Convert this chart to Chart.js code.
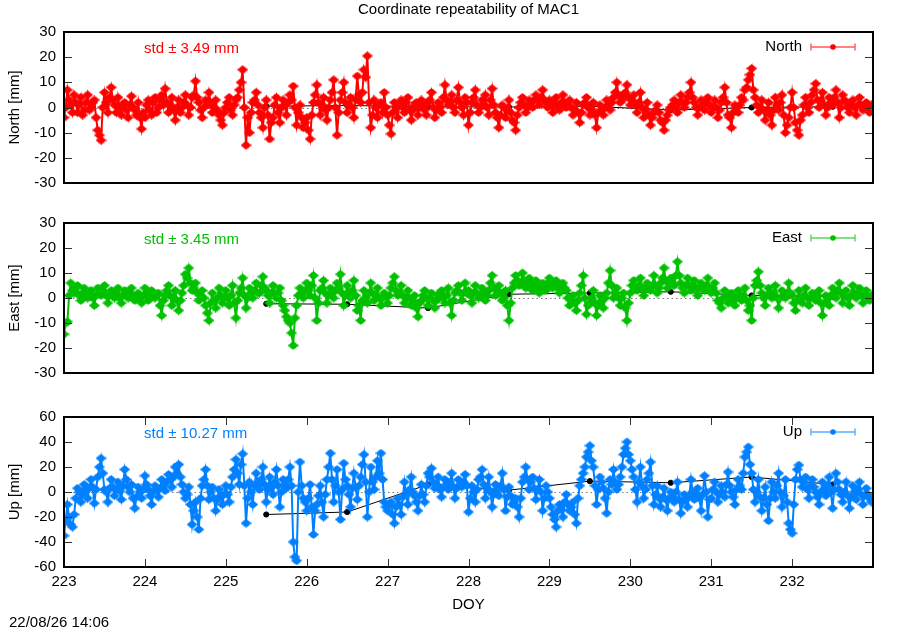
<!DOCTYPE html>
<html>
<head>
<meta charset="utf-8">
<title>Coordinate repeatability of MAC1</title>
<script src="https://cdn.jsdelivr.net/npm/chart.js@4.4.0/dist/chart.umd.min.js"></script>
<style>
html,body{margin:0;padding:0;background:#fff;}
#wrap{position:relative;width:900px;height:630px;overflow:hidden;background:#fff;}
#wrap canvas{position:absolute;left:0;}
</style>
</head>
<body>
<div id="wrap">
  <canvas id="c1" width="900" height="200" style="top:0px"></canvas>
  <canvas id="c2" width="900" height="190" style="top:200px"></canvas>
  <canvas id="c3" width="900" height="230" style="top:400px"></canvas>
</div>
<script>
// ---------------- data ----------------
const titleText = 'Coordinate repeatability of MAC1';
const stampText = '22/08/26 14:06';
const xTitle = 'DOY';

const doy = [
223.000,223.021,223.042,223.063,223.083,223.104,223.125,223.146,223.167,223.188,223.208,223.229,223.250,223.271,223.292,223.313,223.333,223.354,223.375,223.396,223.417,223.438,223.458,223.479,223.500,223.521,223.542,223.563,223.583,223.604,223.625,223.646,223.667,223.688,223.708,223.729,223.750,223.771,223.792,223.813,223.833,223.854,223.875,223.896,223.917,223.938,223.958,223.979,
224.000,224.021,224.042,224.063,224.083,224.104,224.125,224.146,224.167,224.188,224.208,224.229,224.250,224.271,224.292,224.313,224.333,224.354,224.375,224.396,224.417,224.438,224.458,224.479,224.500,224.521,224.542,224.563,224.583,224.604,224.625,224.646,224.667,224.688,224.708,224.729,224.750,224.771,224.792,224.813,224.833,224.854,224.875,224.896,224.917,224.938,224.958,224.979,
225.000,225.021,225.042,225.063,225.083,225.104,225.125,225.146,225.167,225.188,225.208,225.229,225.250,225.271,225.292,225.313,225.333,225.354,225.375,225.396,225.417,225.438,225.458,225.479,225.500,225.521,225.542,225.563,225.583,225.604,225.625,225.646,225.667,225.688,225.708,225.729,225.750,225.771,225.792,225.813,225.833,225.854,225.875,225.896,225.917,225.938,225.958,225.979,
226.000,226.021,226.042,226.063,226.083,226.104,226.125,226.146,226.167,226.188,226.208,226.229,226.250,226.271,226.292,226.313,226.333,226.354,226.375,226.396,226.417,226.438,226.458,226.479,226.500,226.521,226.542,226.563,226.583,226.604,226.625,226.646,226.667,226.688,226.708,226.729,226.750,226.771,226.792,226.813,226.833,226.854,226.875,226.896,226.917,226.938,226.958,226.979,
227.000,227.021,227.042,227.063,227.083,227.104,227.125,227.146,227.167,227.188,227.208,227.229,227.250,227.271,227.292,227.313,227.333,227.354,227.375,227.396,227.417,227.438,227.458,227.479,227.500,227.521,227.542,227.563,227.583,227.604,227.625,227.646,227.667,227.688,227.708,227.729,227.750,227.771,227.792,227.813,227.833,227.854,227.875,227.896,227.917,227.938,227.958,227.979,
228.000,228.021,228.042,228.063,228.083,228.104,228.125,228.146,228.167,228.188,228.208,228.229,228.250,228.271,228.292,228.313,228.333,228.354,228.375,228.396,228.417,228.438,228.458,228.479,228.500,228.521,228.542,228.563,228.583,228.604,228.625,228.646,228.667,228.688,228.708,228.729,228.750,228.771,228.792,228.813,228.833,228.854,228.875,228.896,228.917,228.938,228.958,228.979,
229.000,229.021,229.042,229.063,229.083,229.104,229.125,229.146,229.167,229.188,229.208,229.229,229.250,229.271,229.292,229.313,229.333,229.354,229.375,229.396,229.417,229.438,229.458,229.479,229.500,229.521,229.542,229.563,229.583,229.604,229.625,229.646,229.667,229.688,229.708,229.729,229.750,229.771,229.792,229.813,229.833,229.854,229.875,229.896,229.917,229.938,229.958,229.979,
230.000,230.021,230.042,230.063,230.083,230.104,230.125,230.146,230.167,230.188,230.208,230.229,230.250,230.271,230.292,230.313,230.333,230.354,230.375,230.396,230.417,230.438,230.458,230.479,230.500,230.521,230.542,230.563,230.583,230.604,230.625,230.646,230.667,230.688,230.708,230.729,230.750,230.771,230.792,230.813,230.833,230.854,230.875,230.896,230.917,230.938,230.958,230.979,
231.000,231.021,231.042,231.063,231.083,231.104,231.125,231.146,231.167,231.188,231.208,231.229,231.250,231.271,231.292,231.313,231.333,231.354,231.375,231.396,231.417,231.438,231.458,231.479,231.500,231.521,231.542,231.563,231.583,231.604,231.625,231.646,231.667,231.688,231.708,231.729,231.750,231.771,231.792,231.813,231.833,231.854,231.875,231.896,231.917,231.938,231.958,231.979,
232.000,232.021,232.042,232.063,232.083,232.104,232.125,232.146,232.167,232.188,232.208,232.229,232.250,232.271,232.292,232.313,232.333,232.354,232.375,232.396,232.417,232.438,232.458,232.479,232.500,232.521,232.542,232.563,232.583,232.604,232.625,232.646,232.667,232.688,232.708,232.729,232.750,232.771,232.792,232.813,232.833,232.854,232.875,232.896,232.917,232.938,232.958,232.979
];

const north = [
-4,0,7,3,1,-2,5,2,-2,1,4,-3,-1,2,5,-1,0,2,3,-4,-9,-11,-13,0,6,2,-2,4,8,3,1,-2,4,0,-3,1,2,-1,-4,1,4.5,0,-1,-3,2,-4,-8.5,-2,
-4,1,3,-1,-3,2,4,-2,0,3,5,1,7.5,2,-2,1,4,-1,-5,0,3,-2,0,2,5,1,-3,0,4,5,10.5,4,2,-1,-4,0,3,1,6,2,-2,0,3,-1,-3,-5,-7,-2,
0,2,4,-1,-3,1,3,4,7,10,15,0,-15,-4,-10,-2,2,3,6,1,-2,-4,-8,0,3,-3,-12.5,-6,-4,1,4,-2,-6,0,3,1,-3,2,5,3,8.5,0,-7,-2,1,-4,-8,-6,
-4,-9,-12.5,-3,2,5,9,2,-3,1,4,-1,-5,0,3,6,11,0,-11,-2,3,6,10,2,-2,1,4,0,-4,3,12.5,5,2,6,15,12,20.5,2,-8,-3,3,0,-4,1,2,-2,6,0,
-3,-7,-10.5,-2,2,0,-4,1,3,0,-2,2,4,-1,-5,-1,1,2,-3,0,3,1,-1,-3,2,3,6,0,-4,-1,2,0,-2,4,9,3,1,2,5,0,-2,3,8,2,0,-3,4,2,
-7,-2,2,4,7,1,-2,0,3,1,5,0,-3,3,7.5,1,-2,-4,-8,-3,1,0,-4,-1,3,-2,-5,-6,-9,-3,0,2,4,1,-2,0,3,2,0,3,5,3,1,4,7,3,2,0,
3,1,-2,2,4,0,-1,2,5,2,0,1,3,0,-3,-1,2,-2,-6,-2,1,2,4,0,-3,-1,2,-3,-8,-2,1,-1,-3,0,3,1,-1,2,4,6,10,5,2,3,5,6,9,4,
1,3,5,1,-2,2,6,0,-4,-1,2,-3,-7,-4,-2,-1,1,-2,-5,-6,-9,-5,-3,-1,0,1,3,0,-2,2,5,2,0,2,4,6,10,4,2,0,-3,0,3,1,-1,2,4,1,
-2,0,3,0,-4,-1,2,4,8,2,-3,-4,-8,-2,1,0,-2,1,4,3,7,8,11,13,15.5,7,4,1,-2,0,3,-1,-5,-1,2,-3,-7,-1,4,1,-1,2,5,-3,-10,-7,-4,0,
6,0,-6,-9,-11,-5,-3,1,4,0,-2,2,5,7,9.5,3,0,3,6,1,-3,0,4,2,1,4,7,2,-4,0,5,3,2,0,-2,1,3,0,-3,1,4,1,-1,0,2,0,-2,1
];

const east = [
-14.5,-10,-9.5,1,6,3,2,4,5,1,-1,2,4,1,0,2,3,0,-3,1,4,2,1,3,5,1,-2,1,3,1,0,2,4,0,-2,1,3,1,0,2,4,1,-1,1,2,0,-2,1,
4,1,-1,2,3,1,0,1,2,-3,-7,-1,1,3,5,1,-3,0,3,-1,-5,-1,2,5,9.5,8,12,6,3,4,6,2,-1,1,3,0,-3,-6,-9,-2,2,-1,-4,0,4,1,-2,0,
3,0,-3,1,5,-2,-8,-1,2,4,8,1,-4,0,4,2,0,3,6,2,2,5,8.5,4,3,1,-2,2,5,2,0,2,4,-1,-3,-5,-7.5,-9,-10,-14,-19,-8,-3,1,4,2,0,3,
6,3,1,5,9,0,-9,-2,3,4,7,2,-2,1,4,2,0,3,6,4,9.5,2,-3,1,5,2,0,3,7,1,-5,-3,-9,-1,3,0,-2,2,6,2,-1,1,4,0,-3,0,2,1,
-2,1,4,6,8.5,3,1,2,5,1,-2,0,3,0,-3,-1,1,-4,-7.5,-2,-1,1,3,0,-3,0,2,-1,-4,-1,1,2,3,0,-2,1,4,-2,-7,-1,2,3,5,2,-1,2,6,2,
3,1,-2,2,5,2,0,1,4,2,-1,1,3,6,9,4,1,3,5,2,-1,0,3,-3,-9,-2,4,6,9,7,5,6,10,7,4,5,8,6,3,5,7,4,2,5,6,4,3,6,
8,5,4,6,7,4,2,5,6,4,3,0,-3,-1,1,-2,-5,-1,2,5,9,0,-6.5,-3,-2,0,3,-2,-7,-3,1,-1,-4,0,2,6,11,5,0,2,4,0,-3,0,2,-4,-9,-2,
2,5,7,4,3,5,8,4,1,4,6,4,3,5,9,5,2,4,6,8,12,7,4,6,8,6,5,9,14.5,9,6,4,2,5,8,5,3,5,7,4,1,4,6,4,3,5,8,4,
2,4,6,2,-1,-2,-4,0,3,0,-2,1,2,-1,-3,0,3,1,-1,1,4,-1,-5,-3,-9,0,5,7,10.5,5,2,0,-3,1,4,2,0,2,5,0,-4,0,3,1,0,2,6,2,
1,-2,-5,-1,3,0,-2,1,4,0,-3,0,2,0,-1,1,3,-2,-7,-2,1,0,-3,1,4,2,0,3,6,2,-2,1,3,0,-3,1,5,2,0,2,4,1,-2,1,3,0,-1,1
];

const up = [
-35,-23,-10,-20,-26,-28,-18,-5,3,0,-8,-2,6,2,-5,3,10,4,-9,2,12,20,27,15,2,0,-8,3,10,4,-3,2,8,1,-6,5,18,10,4,0,6,-5,-13,-4,4,0,-5,2,
13,6,2,-3,-10,0,5,2,-4,3,10,5,1,8,14,10,4,12,20,15,22,12,6,0,-5,-2,4,-10,-26,-15,-8,-20,-30,-5,5,10,18,5,-6,0,4,-5,-15,-6,2,-3,-10,-2,
5,-2,-8,4,12,18,26,15,6,22,30.5,5,-25,-5,8,0,-10,5,15,6,2,10,20,6,-8,2,12,4,-2,8,18,5,-12,0,10,6,3,10,20,5,-40,-52,-55,0,24,5,-5,-8,
-15,-5,6,-12,-34,-15,-10,-3,5,-8,-20,-2,10,20,31,10,-8,5,18,0,-22,2,23,10,5,-2,-12,3,15,4,-6,5,12,22,30,8,-20,0,20,8,2,12,25,15,31,10,-8,-12,
-15,-10,-8,-18,-25,-12,-5,-10,-18,-4,8,-2,-10,2,12,0,-3,-8,-15,-3,6,-2,-8,5,15,12,19,8,3,6,12,2,-4,4,10,5,2,8,15,4,-5,3,10,6,4,8,14,5,
-16,-5,5,0,-8,2,10,12,18,6,-5,3,12,0,-12,-2,6,2,-3,5,15,2,-15,-4,4,-3,-10,-8,-5,-12,-20,-5,8,12,20,10,2,8,12,3,-6,2,10,0,-15,-5,5,0,
-5,-12,-18,-22,-28,-15,-10,-14,-20,-8,-2,-10,-15,-12,-8,-18,-25,-5,5,10,15,20,28,32,37,25,20,5,-10,2,12,8,3,-5,-17,0,10,6,18,8,2,6,12,20,30,35,40,30,
25,18,12,2,-8,8,20,5,-5,2,10,15,24,5,-10,-2,5,-5,-12,-4,3,-6,-15,-5,0,-4,-8,0,8,-6,-17,-8,-2,-6,-12,-3,10,0,-6,-2,3,-5,-15,-2,13,0,-20,-6,
-5,2,8,0,-8,-2,5,0,-4,6,16,5,0,-4,-10,2,10,5,2,15,28,32,36,22,15,2,-8,0,10,-4,-15,-5,4,-10,-23,-5,8,0,-5,5,15,0,-12,-3,10,-8,-25,-30,
-33,-10,10,18,21.5,10,4,8,12,2,-5,5,10,4,0,-4,-10,0,8,2,-3,5,12,0,-13,2,15,8,2,-2,-8,0,8,-3,-13,-4,5,0,-6,2,8,-2,-10,-3,3,-2,-5,-8
];

// daily mean solutions (black)
const dailyDoy   = [225.5, 226.5, 227.5, 228.5, 229.5, 230.5, 231.5, 232.5];
const dailyNorth = [0.5, 0.8, 0.3, 0.2, 0.5, -1, 0, 0.3];
const dailyEast  = [-2.3, -2.5, -4, 1.5, 2, 2.5, 1, 0.5];
const dailyUp    = [-18, -16, 6, 1.5, 8.7, 7.4, 12, 6];

const xTicks   = [223, 224, 225, 226, 227, 228, 229, 230, 231, 232];
const yTicksNE = [-30, -20, -10, 0, 10, 20, 30];
const yTicksUp = [-60, -40, -20, 0, 20, 40, 60];

const seriesNames = ['North', 'East', 'Up'];
const yLabels = ['North [mm]', 'East [mm]', 'Up [mm]'];
const stdLabels = ['std \u00b1 3.49 mm', 'std \u00b1 3.45 mm', 'std \u00b1 10.27 mm'];
const colors = ['#ff0000', '#00c000', '#0080ff'];

// ---------------- drawing ----------------
const FONT = '"Liberation Sans", Arial, Helvetica, sans-serif';
Chart.defaults.font.family = FONT;
Chart.defaults.font.size = 15;
Chart.defaults.color = '#000';

function marker(color) {
  const c = document.createElement('canvas');
  c.width = 11; c.height = 9;
  const g = c.getContext('2d');
  g.fillStyle = color;
  g.beginPath(); g.arc(5.5, 4.5, 3.6, 0, Math.PI * 2); g.fill();
  g.fillRect(0.5, 3.4, 10, 2.2);
  g.fillRect(4.8, 0.3, 1.4, 8.4);
  return c;
}

const gnuFrame = {
  id: 'gnuFrame',
  beforeDatasetsDraw(chart) {
    const {ctx, chartArea: a, scales: {y}} = chart;
    const y0 = Math.round(y.getPixelForValue(0)) + 0.5;
    ctx.save();
    ctx.strokeStyle = '#777';
    ctx.lineWidth = 1;
    ctx.setLineDash([1.5, 3]);
    ctx.beginPath(); ctx.moveTo(a.left, y0); ctx.lineTo(a.right, y0); ctx.stroke();
    ctx.restore();
  },
  afterDatasetsDraw(chart, args, o) {
    const {ctx, chartArea: a, scales: {x, y}} = chart;
    ctx.save();
    ctx.strokeStyle = '#333';
    ctx.lineWidth = 1;
    ctx.beginPath();
    y.ticks.forEach(t => {
      const py = Math.round(y.getPixelForValue(t.value)) + 0.5;
      ctx.moveTo(a.left, py); ctx.lineTo(a.left + 8, py);
      ctx.moveTo(a.right, py); ctx.lineTo(a.right - 8, py);
    });
    if (o.xTicks) {
      x.ticks.forEach(t => {
        const px = Math.round(x.getPixelForValue(t.value)) + 0.5;
        ctx.moveTo(px, a.bottom); ctx.lineTo(px, a.bottom - 8);
        ctx.moveTo(px, a.top); ctx.lineTo(px, a.top + 8);
      });
    }
    ctx.stroke();
    ctx.strokeStyle = '#000';
    ctx.lineWidth = 2;
    ctx.strokeRect(a.left, a.top, a.right - a.left, a.bottom - a.top);

    ctx.font = '15px ' + FONT;
    ctx.textBaseline = 'middle';
    // std annotation
    ctx.fillStyle = o.color;
    ctx.textAlign = 'left';
    ctx.fillText(o.std, a.left + 80, a.top + 17);
    // key
    const ky = a.top + 15;
    ctx.fillStyle = '#000';
    ctx.textAlign = 'right';
    ctx.fillText(o.name, a.right - 71, ky);
    const x1 = a.right - 62, x2 = a.right - 18, xm = a.right - 40;
    ctx.strokeStyle = o.color;
    ctx.globalAlpha = 0.65;
    ctx.lineWidth = 1.4;
    ctx.beginPath();
    ctx.moveTo(x1, ky); ctx.lineTo(x2, ky);
    ctx.moveTo(x1, ky - 3.5); ctx.lineTo(x1, ky + 3.5);
    ctx.moveTo(x2, ky - 3.5); ctx.lineTo(x2, ky + 3.5);
    ctx.stroke();
    ctx.globalAlpha = 1;
    ctx.fillStyle = o.color;
    ctx.beginPath(); ctx.arc(xm, ky, 2.8, 0, Math.PI * 2); ctx.fill();
    if (o.stamp) {
      ctx.fillStyle = '#000';
      ctx.textAlign = 'left';
      ctx.fillText(o.stamp, 9, chart.height - 7.3);
    }
    ctx.restore();
  }
};

function panel(canvasId, k, values, daily, yTicks, yMax, padTop, padBottom, isBottom, withTitle) {
  const pts = doy.map((x, i) => ({x: x, y: values[i]}));
  const dpts = dailyDoy.map((x, i) => ({x: x, y: daily[i]}));
  return new Chart(document.getElementById(canvasId), {
    type: 'line',
    data: {
      datasets: [
        { label: seriesNames[k], data: pts, borderColor: colors[k], backgroundColor: colors[k],
          borderWidth: 2, pointStyle: marker(colors[k]), pointRadius: 5, pointHoverRadius: 5,
          tension: 0, order: 0 },
        { label: seriesNames[k] + ' daily', data: dpts, borderColor: '#000', backgroundColor: '#000',
          borderWidth: 1, pointRadius: 2.6, pointHoverRadius: 2.6, tension: 0, order: 1 }
      ]
    },
    plugins: [gnuFrame],
    options: {
      responsive: false,
      animation: false,
      events: [],
      layout: { padding: { left: 0, right: 27, top: padTop, bottom: padBottom } },
      plugins: {
        legend: { display: false },
        tooltip: { enabled: false },
        title: {
          display: withTitle, text: titleText, fullSize: false,
          font: { size: 15, weight: 'normal' }, color: '#000',
          padding: { top: 1, bottom: 13 }
        },
        gnuFrame: { color: colors[k], std: stdLabels[k], name: seriesNames[k], xTicks: isBottom,
                    stamp: isBottom ? stampText : null }
      },
      scales: {
        x: {
          type: 'linear', min: 223, max: 233, display: isBottom,
          afterBuildTicks: s => { s.ticks = xTicks.map(v => ({value: v})); },
          afterFit: s => { if (isBottom) s.height = 63; },
          grid: { display: false, drawTicks: false },
          border: { display: false },
          ticks: { padding: 6, maxRotation: 0, autoSkip: false, font: { size: 15 }, color: '#000' },
          title: { display: isBottom, text: xTitle, color: '#000', font: { size: 15 }, padding: { top: 0, bottom: 16 } }
        },
        y: {
          type: 'linear', min: -yMax, max: yMax,
          afterBuildTicks: s => { s.ticks = yTicks.map(v => ({value: v})); },
          afterFit: s => { s.width = 64; },
          grid: { display: false, drawTicks: false },
          border: { display: false },
          ticks: { padding: 8, font: { size: 15 }, color: '#000' },
          title: { display: true, text: yLabels[k], color: '#000', font: { size: 15 }, padding: { top: 6, bottom: 0 } }
        }
      }
    }
  });
}

panel('c1', 0, north, dailyNorth, yTicksNE, 30, 0, 8, false, true);
panel('c2', 1, east, dailyEast, yTicksNE, 30, 23, 8, false, false);
panel('c3', 2, up, dailyUp, yTicksUp, 60, 12, 0, true, false);
</script>
</body>
</html>
